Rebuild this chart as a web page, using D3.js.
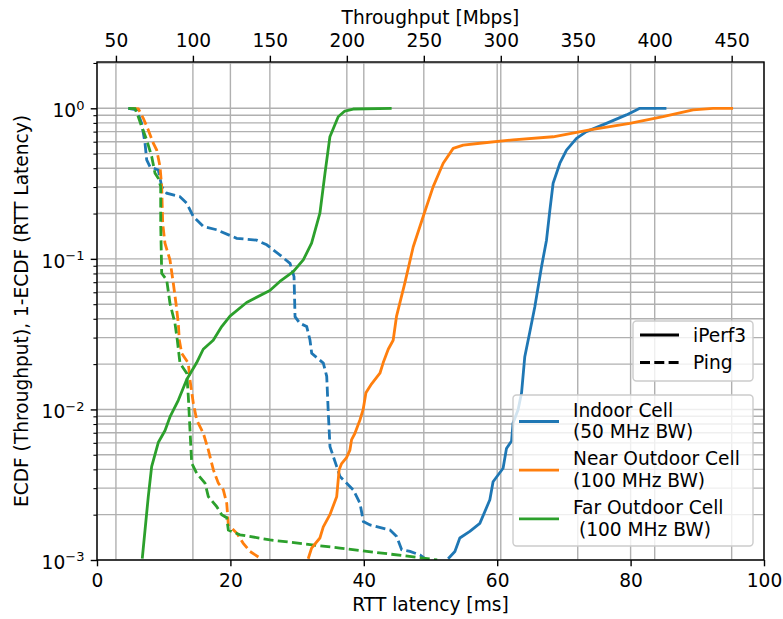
<!DOCTYPE html>
<html>
<head>
<meta charset="utf-8">
<script src="https://cdn.jsdelivr.net/npm/d3@7"></script>
<style>
  body { margin: 0; background: #fff; }
  text { font-family: "DejaVu Sans", sans-serif; fill: #000; }
</style>
</head>
<body>
<svg id="chart" width="783" height="619"></svg>
<script>
// iPerf3 throughput ECDF (top axis, Mbps)
const indoorThr = [265.8, 270.2, 273.4, 279.9, 286.4, 292.9, 295.0, 301.5, 303.7, 307.0, 308.0, 311.3, 313.5, 315.6, 318.8, 322.1, 326.5, 329.7, 331.9, 334.0, 338.4, 342.7, 349.2, 355.6, 368.6, 381.6, 388.1, 390.3, 407.6];
const indoorThrP = [0.00102, 0.00114, 0.00140, 0.00155, 0.00175, 0.00251, 0.00331, 0.00407, 0.00550, 0.00617, 0.00813, 0.0100, 0.0129, 0.0224, 0.0324, 0.0479, 0.0891, 0.133, 0.211, 0.318, 0.432, 0.528, 0.632, 0.700, 0.794, 0.904, 0.975, 1.0, 1.0];

const nearThr = [174.9, 177.1, 182.5, 184.7, 189.0, 193.4, 195.0, 196.6, 199.8, 202.0, 203.1, 205.2, 208.5, 210.6, 212.4, 216.1, 221.5, 223.6, 226.9, 230.1, 232.3, 237.7, 243.1, 249.6, 256.1, 262.6, 269.1, 275.6, 286.4, 308.0, 334.0, 357.8, 383.8, 405.4, 424.9, 437.9, 450.9];
const nearThrP = [0.00102, 0.00120, 0.00140, 0.00166, 0.00200, 0.00263, 0.00398, 0.00437, 0.00479, 0.00537, 0.00631, 0.00692, 0.00851, 0.0100, 0.0129, 0.0148, 0.0174, 0.0204, 0.0251, 0.0288, 0.0417, 0.0692, 0.120, 0.191, 0.302, 0.432, 0.542, 0.570, 0.586, 0.617, 0.647, 0.718, 0.794, 0.879, 0.975, 1.0, 1.0];

const farThr = [67.1, 68.9, 71.0, 73.2, 77.5, 81.9, 85.1, 90.5, 96.0, 102.4, 106.7, 113.2, 118.7, 124.1, 134.9, 150.0, 156.5, 165.2, 171.7, 177.1, 182.5, 185.8, 189.0, 194.4, 198.7, 204.1, 229.1];
const farThrP = [0.00102, 0.00158, 0.00263, 0.00417, 0.00603, 0.00724, 0.00891, 0.0115, 0.0158, 0.0204, 0.0251, 0.0288, 0.0355, 0.0417, 0.0513, 0.0617, 0.0708, 0.0822, 0.0984, 0.127, 0.201, 0.370, 0.647, 0.879, 0.959, 0.989, 1.0];

// Ping RTT 1-ECDF (bottom axis, ms)
const indoorRtt = [4.69, 5.95, 6.70, 7.20, 7.45, 7.95, 9.19, 9.70, 10.45, 12.44, 13.45, 14.44, 15.94, 17.95, 20.94, 23.94, 25.44, 27.44, 28.94, 29.54, 29.69, 30.43, 31.44, 31.93, 32.19, 33.93, 34.44, 34.68, 34.93, 35.94, 36.43, 38.43, 39.43, 39.93, 40.93, 43.93, 44.93, 45.68, 46.93, 48.43, 49.18];
const indoorRttP = [1.0, 0.975, 0.794, 0.586, 0.454, 0.409, 0.389, 0.302, 0.273, 0.259, 0.234, 0.191, 0.164, 0.156, 0.137, 0.133, 0.124, 0.106, 0.0933, 0.0762, 0.0413, 0.0373, 0.0355, 0.0289, 0.0236, 0.0203, 0.0166, 0.00944, 0.00566, 0.00417, 0.00358, 0.00292, 0.00238, 0.00180, 0.00171, 0.00158, 0.00143, 0.00117, 0.00114, 0.00108, 0.00102];

const nearRtt = [5.20, 6.19, 6.94, 7.69, 8.44, 8.95, 9.45, 9.70, 9.85, 10.19, 10.94, 11.44, 11.84, 12.19, 12.34, 12.70, 13.69, 13.94, 14.44, 14.95, 15.94, 16.69, 17.44, 18.19, 18.94, 19.45, 19.69, 20.94, 21.93, 22.94, 24.44];
const nearRttP = [1.0, 0.993, 0.859, 0.718, 0.586, 0.528, 0.409, 0.302, 0.172, 0.127, 0.0984, 0.0689, 0.0507, 0.0373, 0.0289, 0.0236, 0.0203, 0.0157, 0.0110, 0.00851, 0.00695, 0.00538, 0.00398, 0.00324, 0.00292, 0.00238, 0.00171, 0.00151, 0.00129, 0.00114, 0.00103];

const farRtt = [4.69, 5.70, 6.19, 6.70, 7.45, 8.20, 8.70, 9.19, 9.55, 9.55, 9.70, 10.45, 10.94, 11.69, 12.04, 12.44, 13.45, 13.69, 13.94, 14.20, 14.95, 16.19, 16.69, 17.95, 18.70, 19.45, 19.69, 21.44, 25.94, 36.43, 48.9, 51.0];
const farRttP = [1.0, 0.995, 0.879, 0.755, 0.617, 0.478, 0.370, 0.343, 0.302, 0.172, 0.0802, 0.0724, 0.0507, 0.0373, 0.0289, 0.0203, 0.0174, 0.0122, 0.00731, 0.00440, 0.00377, 0.00324, 0.00264, 0.00226, 0.00200, 0.00191, 0.00158, 0.00147, 0.00136, 0.00120, 0.00103, 0.00100];

const cells = ["Indoor Cell", "Near Outdoor Cell", "Far Outdoor Cell"];
const cellBw = ["(50 MHz BW)", "(100 MHz BW)", " (100 MHz BW)"];
const colors = ["#1f77b4", "#ff7f0e", "#2ca02c"];
const styleNames = ["iPerf3", "Ping"];

const rttTicks = [0, 20, 40, 60, 80, 100];
const thrTicks = [50, 100, 150, 200, 250, 300, 350, 400, 450];
const pTicks = [1e-3, 1e-2, 1e-1, 1];
const pExp = ["\u22123", "\u22122", "\u22121", "0"];

const margin = { left: 97, right: 764, top: 62, bottom: 560 };
const svg = d3.select('#chart');

const x = d3.scaleLinear().domain([0, 100]).range([margin.left, margin.right]);
const xTop = d3.scaleLinear().domain([37.7, 471]).range([margin.left, margin.right]);
const y = d3.scaleLog().domain([1e-3, 2.03]).range([margin.bottom, margin.top]);

// minor log ticks
const pMinor = [];
[1e-3, 1e-2, 1e-1, 1].forEach(d => {
  for (let k = 2; k <= 9; k++) {
    const v = d * k;
    if (v <= y.domain()[1]) pMinor.push(v);
  }
});

// grid
const grid = svg.append('g').attr('stroke', '#b0b0b0').attr('stroke-width', 1.4);
grid.selectAll('.hg')
  .data(pTicks.concat(pMinor))
  .enter()
  .append('line')
  .attr('x1', margin.left).attr('x2', margin.right)
  .attr('y1', d => y(d)).attr('y2', d => y(d));
grid.selectAll('.vb')
  .data(rttTicks)
  .enter()
  .append('line')
  .attr('x1', d => x(d)).attr('x2', d => x(d))
  .attr('y1', margin.top).attr('y2', margin.bottom);
grid.selectAll('.vt')
  .data(thrTicks)
  .enter()
  .append('line')
  .attr('x1', d => xTop(d)).attr('x2', d => xTop(d))
  .attr('y1', margin.top).attr('y2', margin.bottom);

// curves
svg.append('clipPath').attr('id', 'clip')
  .append('rect')
  .attr('x', margin.left).attr('y', margin.top)
  .attr('width', margin.right - margin.left).attr('height', margin.bottom - margin.top);

const plot = svg.append('g').attr('clip-path', 'url(#clip)');
const thrLine = d3.line().x(d => xTop(d[0])).y(d => y(d[1]));
const rttLine = d3.line().x(d => x(d[0])).y(d => y(d[1]));

const thrSeries = [[indoorThr, indoorThrP], [nearThr, nearThrP], [farThr, farThrP]];
const rttSeries = [[indoorRtt, indoorRttP], [nearRtt, nearRttP], [farRtt, farRttP]];

rttSeries.forEach((s, i) => {
  plot.append('path')
    .attr('d', rttLine(d3.zip(s[0], s[1])))
    .attr('fill', 'none')
    .attr('stroke', colors[i])
    .attr('stroke-width', 2.8)
    .attr('stroke-dasharray', '10,4.3');
});
thrSeries.forEach((s, i) => {
  plot.append('path')
    .attr('d', thrLine(d3.zip(s[0], s[1])))
    .attr('fill', 'none')
    .attr('stroke', colors[i])
    .attr('stroke-width', 2.8)
    .attr('stroke-linejoin', 'round');
});

// axes
const fontSize = 18.6;
const bottomAxis = svg.append('g')
  .attr('transform', `translate(0,${margin.bottom})`)
  .call(d3.axisBottom(x).tickValues(rttTicks).tickSize(6.3).tickSizeOuter(0).tickPadding(7));
const topAxis = svg.append('g')
  .attr('transform', `translate(0,${margin.top})`)
  .call(d3.axisTop(xTop).tickValues(thrTicks).tickSize(6.3).tickSizeOuter(0).tickPadding(9).tickFormat(d3.format('d')));
const leftAxis = svg.append('g')
  .attr('transform', `translate(${margin.left},0)`)
  .call(d3.axisLeft(y).tickValues(pTicks).tickSize(6.3).tickSizeOuter(0).tickPadding(6.3));
const leftMinor = svg.append('g')
  .attr('transform', `translate(${margin.left},0)`)
  .call(d3.axisLeft(y).tickValues(pMinor).tickSize(3.6).tickSizeOuter(0).tickFormat(''));

[bottomAxis, topAxis, leftAxis, leftMinor].forEach(a => {
  a.select('.domain').remove();
  a.selectAll('.tick line').attr('stroke', '#000').attr('stroke-width', 1.4);
  a.selectAll('text').attr('font-size', fontSize).attr('font-family', '"DejaVu Sans", sans-serif').attr('fill', '#000');
});
leftMinor.selectAll('.tick line').attr('stroke-width', 1.1);

leftAxis.selectAll('.tick text')
  .attr('dy', '0.45em')
  .text(null)
  .each(function (d, i) {
    const t = d3.select(this);
    t.append('tspan').text('10');
    t.append('tspan').attr('font-size', 13).attr('dy', -7.5).text(pExp[i]);
  });

// frame
svg.append('rect')
  .attr('x', margin.left).attr('y', margin.top)
  .attr('width', margin.right - margin.left).attr('height', margin.bottom - margin.top)
  .attr('fill', 'none').attr('stroke', '#000').attr('stroke-width', 1.4);

// axis labels
svg.append('text')
  .attr('x', (margin.left + margin.right) / 2).attr('y', 611)
  .attr('text-anchor', 'middle').attr('font-size', fontSize)
  .text('RTT latency [ms]');
svg.append('text')
  .attr('x', (margin.left + margin.right) / 2).attr('y', 24)
  .attr('text-anchor', 'middle').attr('font-size', fontSize)
  .text('Throughput [Mbps]');
svg.append('text')
  .attr('transform', `translate(28,${(margin.top + margin.bottom) / 2}) rotate(-90)`)
  .attr('text-anchor', 'middle').attr('font-size', fontSize)
  .text('ECDF (Throughput), 1-ECDF (RTT Latency)');

// legend: line styles
const leg1 = svg.append('g');
leg1.append('rect')
  .attr('x', 633).attr('y', 321).attr('width', 120).attr('height', 60)
  .attr('rx', 3.5).attr('fill', '#fff').attr('fill-opacity', 0.8)
  .attr('stroke', '#cccccc').attr('stroke-width', 1.4);
styleNames.forEach((name, i) => {
  const cy = 335 + i * 27.5;
  leg1.append('line')
    .attr('x1', 640).attr('x2', 679).attr('y1', cy).attr('y2', cy)
    .attr('stroke', '#000').attr('stroke-width', 2.8)
    .attr('stroke-dasharray', i === 1 ? '10,4.3' : null);
  leg1.append('text')
    .attr('x', 693).attr('y', cy + 6.5).attr('font-size', fontSize)
    .text(name);
});

// legend: cells
const leg2 = svg.append('g');
leg2.append('rect')
  .attr('x', 513).attr('y', 395).attr('width', 240).attr('height', 151)
  .attr('rx', 3.5).attr('fill', '#fff').attr('fill-opacity', 0.8)
  .attr('stroke', '#cccccc').attr('stroke-width', 1.4);
cells.forEach((name, i) => {
  const top = 410 + i * 48.7;
  leg2.append('line')
    .attr('x1', 519).attr('x2', 559).attr('y1', top + 11.5).attr('y2', top + 11.5)
    .attr('stroke', colors[i]).attr('stroke-width', 2.8);
  const t = leg2.append('text').attr('font-size', fontSize).style('white-space', 'pre');
  t.append('tspan').attr('x', 573).attr('y', top + 6.5).text(name);
  t.append('tspan').attr('x', 573).attr('y', top + 6.5 + 21.6).text(cellBw[i]);
});
</script>
</body>
</html>
